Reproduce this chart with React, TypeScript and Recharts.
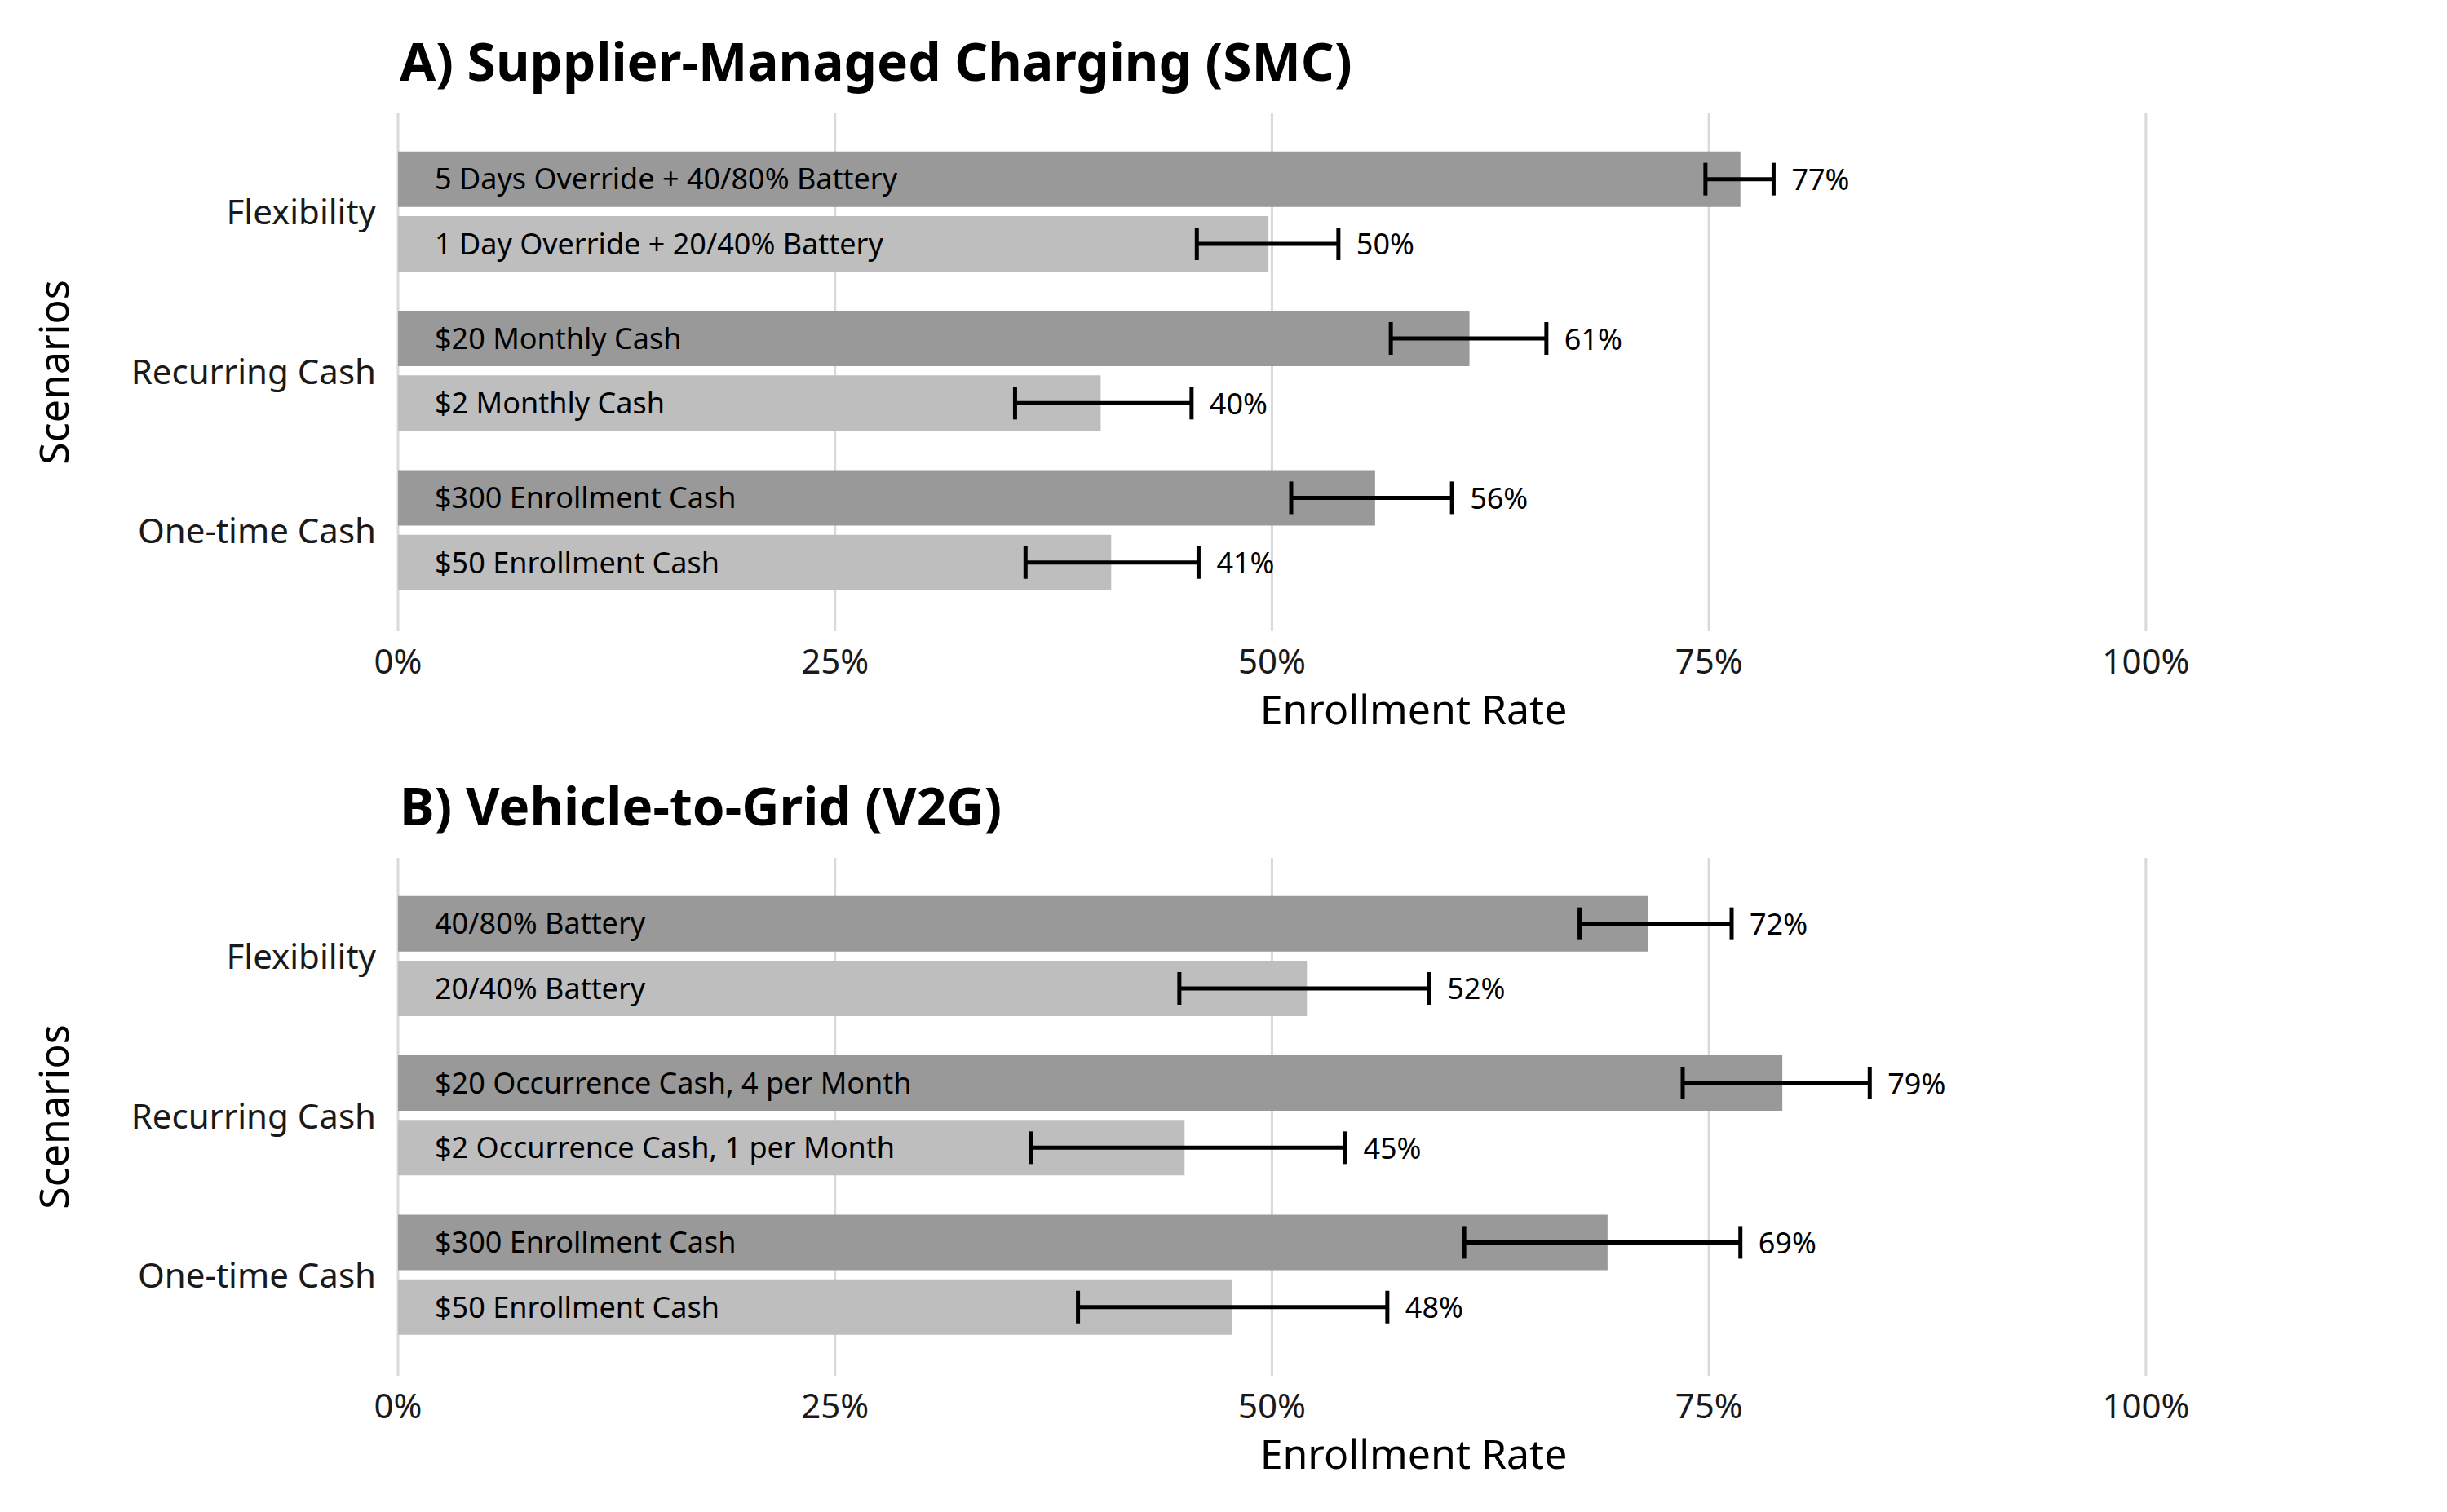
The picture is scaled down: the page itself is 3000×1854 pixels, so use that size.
import React from "react";
import { Bar, BarChart, CartesianGrid, ErrorBar, LabelList, XAxis, YAxis, Cell } from "recharts";

const FONT = "'Noto Sans', 'Open Sans', sans-serif";
const DARK = "#999999";
const LIGHT = "#bebebe";

const groups = ["Flexibility", "Recurring Cash", "One-time Cash"];
const xTicks = [0, 0.25, 0.5, 0.75, 1];

// per panel: [high option, low option] for each group, in group order
const smcLabels = [
  "5 Days Override + 40/80% Battery", "1 Day Override + 20/40% Battery",
  "$20 Monthly Cash", "$2 Monthly Cash",
  "$300 Enrollment Cash", "$50 Enrollment Cash",
];
const smcRate = [0.768, 0.498, 0.613, 0.402, 0.559, 0.408];
const smcLow = [0.748, 0.457, 0.568, 0.353, 0.511, 0.359];
const smcHigh = [0.787, 0.538, 0.657, 0.454, 0.603, 0.458];

const v2gLabels = [
  "40/80% Battery", "20/40% Battery",
  "$20 Occurrence Cash, 4 per Month", "$2 Occurrence Cash, 1 per Month",
  "$300 Enrollment Cash", "$50 Enrollment Cash",
];
const v2gRate = [0.715, 0.52, 0.792, 0.45, 0.692, 0.477];
const v2gLow = [0.676, 0.447, 0.735, 0.362, 0.61, 0.389];
const v2gHigh = [0.763, 0.59, 0.842, 0.542, 0.768, 0.566];

function build(labels: string[], rate: number[], low: number[], high: number[]) {
  return labels.map((label, i) => ({
    label,
    rate: rate[i],
    hi: high[i],
    pct: `${Math.round(rate[i] * 100)}%`,
    err: [rate[i] - low[i], high[i] - rate[i]],
    pos: Math.floor(i / 2) + (i % 2 === 0 ? -0.203 : 0.203),
    strong: i % 2 === 0,
  }));
}

function Panel({ title, data }: { title: string; data: ReturnType<typeof build> }) {
  const PctLabel = (p: any) => {
    const d = data[p.index];
    const x = p.x + (d.hi * p.width) / d.rate + 22;
    return (
      <text x={x} y={p.y + p.height / 2} dominantBaseline="central" fontSize={36} fontFamily={FONT} fill="#000">
        {d.pct}
      </text>
    );
  };
  const GroupTick = (p: any) => (
    <text x={461} y={p.y} textAnchor="end" dominantBaseline="central" fontSize={42} fontFamily={FONT} fill="#1a1a1a">
      {groups[p.payload.value]}
    </text>
  );
  return (
    <div style={{ position: "relative", width: 3000, height: 913 }}>
      <div style={{ position: "absolute", left: 490, top: 36, fontFamily: FONT, fontWeight: 700, fontSize: 64, lineHeight: "78px" }}>
        {title}
      </div>
      <BarChart
        width={3000}
        height={927}
        data={data}
        layout="vertical"
        margin={{ top: 139, right: 22, bottom: 0, left: 0 }}
      >
        <CartesianGrid
          horizontal={false}
          stroke="#d9d9d9"
          strokeWidth={3}
          verticalCoordinatesGenerator={({ offset }: any) =>
            xTicks.map((t) => offset.left + (t / 1.162) * offset.width)
          }
        />
        <XAxis
          type="number"
          domain={[0, 1.162]}
          ticks={xTicks}
          tickFormatter={(v) => `${Math.round(v * 100)}%`}
          axisLine={false}
          tickLine={false}
          height={153}
          tickMargin={16}
          tick={{ fontSize: 42, fontFamily: FONT, fill: "#1a1a1a" }}
          label={{ value: "Enrollment Rate", position: "insideTop", offset: 78, fontSize: 50, fontFamily: FONT, fill: "#000" }}
        />
        <YAxis
          type="number"
          dataKey="pos"
          domain={[-0.614, 2.636]}
          ticks={[0, 1, 2]}
          axisLine={false}
          tickLine={false}
          width={488}
          tick={<GroupTick />}
          label={{ value: "Scenarios", angle: -90, position: "insideLeft", offset: 66, fontSize: 50, fontFamily: FONT, fill: "#000", style: { textAnchor: "middle" } }}
        />
        <Bar dataKey="rate" barSize={68} isAnimationActive={false}>
          {data.map((d, i) => (
            <Cell key={i} fill={d.strong ? DARK : LIGHT} />
          ))}
          <LabelList dataKey="label" position="insideLeft" offset={45} fontSize={36} fontFamily={FONT} fill="#000" />
          <LabelList dataKey="pct" content={PctLabel} />
          <ErrorBar dataKey="err" direction="x" width={20} stroke="#000" strokeWidth={5} />
        </Bar>
      </BarChart>
    </div>
  );
}

export default function App() {
  return (
    <div style={{ position: "absolute", left: 0, top: 0, width: 3000, height: 1854, background: "#fff" }}>
      <Panel title="A) Supplier-Managed Charging (SMC)" data={build(smcLabels, smcRate, smcLow, smcHigh)} />
      <Panel title="B) Vehicle-to-Grid (V2G)" data={build(v2gLabels, v2gRate, v2gLow, v2gHigh)} />
    </div>
  );
}
